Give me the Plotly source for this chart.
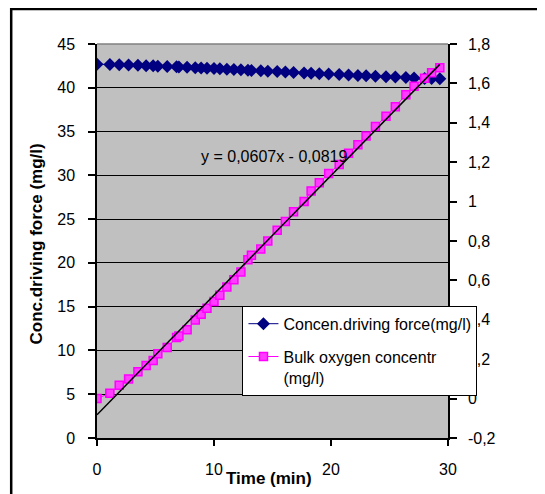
import plotly.graph_objects as go

# ---- data ----
time_min = [0, 1.1, 1.9, 2.7, 3.5, 4.2, 4.8, 5.2, 6.0, 6.8, 7.0, 7.7, 8.4, 8.9, 9.4,
            10.0, 10.5, 11.1, 11.7, 12.3, 12.9, 13.2, 14.0, 14.6, 15.4, 16.1, 16.8,
            17.7, 18.3, 19.0, 19.8, 20.7, 21.5, 22.3, 23.0, 23.8, 24.7, 25.5, 26.4,
            27.1, 28.0, 28.6, 29.3]

driving_force = [42.70, 42.67, 42.63, 42.60, 42.56, 42.53, 42.51, 42.47, 42.44, 42.39,
                 42.38, 42.35, 42.30, 42.27, 42.24, 42.21, 42.18, 42.13, 42.10, 42.06,
                 41.99, 41.97, 41.94, 41.90, 41.85, 41.80, 41.75, 41.70, 41.65, 41.60,
                 41.56, 41.51, 41.46, 41.41, 41.37, 41.32, 41.27, 41.22, 41.16, 41.12,
                 41.07, 41.05, 41.02]

bulk_oxygen = [0.000, 0.027, 0.068, 0.100, 0.136, 0.168, 0.194, 0.228, 0.259, 0.310,
               0.318, 0.349, 0.399, 0.428, 0.458, 0.493, 0.525, 0.567, 0.603, 0.643,
               0.705, 0.728, 0.759, 0.800, 0.855, 0.899, 0.948, 1.000, 1.054, 1.096,
               1.143, 1.188, 1.245, 1.289, 1.333, 1.381, 1.433, 1.481, 1.543, 1.585,
               1.626, 1.654, 1.680]

trend_slope = 0.0607
trend_intercept = -0.0819
trend_x = [0, 29.3]
trend_label = "y = 0,0607x - 0,0819"

left_ticks = [0, 5, 10, 15, 20, 25, 30, 35, 40, 45]
right_tickvals = [-0.2, 0, 0.2, 0.4, 0.6, 0.8, 1.0, 1.2, 1.4, 1.6, 1.8]
right_ticktext = ["-0,2", "0", "0,2", "0,4", "0,6", "0,8", "1", "1,2", "1,4", "1,6", "1,8"]
x_ticks = [0, 10, 20, 30]

FONT = "Liberation Sans, Arial, sans-serif"

# ---- layout geometry (page pixels; the page body adds an 8px offset) ----
W, H = 545, 494
OFF = 8
PL, PR, PT, PB = 96.5 - OFF, 448.3 - OFF, 44.0 - OFF, 438.3 - OFF
PW, PH = PR - PL, PB - PT


def px(xp):
    return (xp - OFF - PL) / PW


def py(yp):
    return (PB - (yp - OFF)) / PH


fig = go.Figure()

fig.add_trace(go.Scatter(
    x=time_min, y=driving_force, mode="lines+markers",
    name="Concen.driving force(mg/l)", legendgroup="a",
    line=dict(color="#000080", width=1),
    marker=dict(symbol="diamond", size=10, color="#000080"),
    yaxis="y"))

fig.add_trace(go.Scatter(
    x=time_min, y=bulk_oxygen, mode="lines+markers",
    name="Bulk oxygen concentr<br>(mg/l)", legendgroup="b",
    line=dict(color="#FF00FF", width=1),
    marker=dict(symbol="square", size=8, color="#FF3CFF",
                line=dict(color="#FF00FF", width=1.5)),
    yaxis="y2"))

fig.add_trace(go.Scatter(
    x=trend_x, y=[trend_slope * v + trend_intercept for v in trend_x],
    mode="lines", line=dict(color="black", width=1.5),
    showlegend=False, yaxis="y2", hoverinfo="skip"))

fig.update_layout(
    width=W, height=H,
    margin=dict(l=PL, r=W - PR, t=PT, b=H - PB),
    paper_bgcolor="white", plot_bgcolor="#C0C0C0",
    font=dict(family=FONT, size=16, color="black"),
    showlegend=True,
    xaxis=dict(range=[0, 30], tickvals=x_ticks, showgrid=False, zeroline=False,
               showline=True, linecolor="black", linewidth=1.5,
               ticks="outside", ticklen=6, tickcolor="black", tickwidth=1.5,
               ticklabelstandoff=10),
    yaxis=dict(range=[0, 45], tickvals=left_ticks, showgrid=True, gridcolor="black",
               gridwidth=1, zeroline=False, showline=True, linecolor="black",
               linewidth=1.5, ticks="outside", ticklen=7, tickcolor="black",
               tickwidth=1.5, ticklabelstandoff=10),
    yaxis2=dict(range=[-0.2, 1.8], overlaying="y", side="right",
                tickvals=right_tickvals, ticktext=right_ticktext, showgrid=False,
                zeroline=False, showline=True, linecolor="black", linewidth=1.5,
                ticks="outside", ticklen=7, tickcolor="black", tickwidth=1.5,
                ticklabelstandoff=8),
    legend=dict(x=px(242.3), y=py(306), xanchor="left", yanchor="top",
                bgcolor="white", bordercolor="black", borderwidth=1,
                font=dict(family=FONT, size=16, color="black"),
                tracegroupgap=9, traceorder="grouped", valign="top"),
    annotations=[
        dict(text="<b>Conc.driving force (mg/l)</b>", xref="paper", yref="paper",
             x=px(36), y=py(244), textangle=-90, showarrow=False,
             xanchor="center", yanchor="middle", font=dict(size=17)),
        dict(text="<b>Time (min)</b>", xref="paper", yref="paper",
             x=px(269), y=py(479), showarrow=False,
             xanchor="center", yanchor="middle", font=dict(size=17)),
        dict(text=trend_label, xref="x", yref="y", x=15.1, y=32.1,
             showarrow=False, xanchor="center", yanchor="middle",
             font=dict(size=16)),
    ],
    shapes=[
        dict(type="line", xref="paper", yref="paper", x0=0, x1=1, y0=1, y1=1,
             line=dict(color="#808080", width=1.5), layer="above"),
        dict(type="rect", xref="paper", yref="paper", x0=px(10.5), x1=px(600),
             y0=py(560), y1=py(9), line=dict(color="black", width=2.5),
             fillcolor="rgba(0,0,0,0)", layer="above"),
    ],
)

fig.write_html("out.html")
